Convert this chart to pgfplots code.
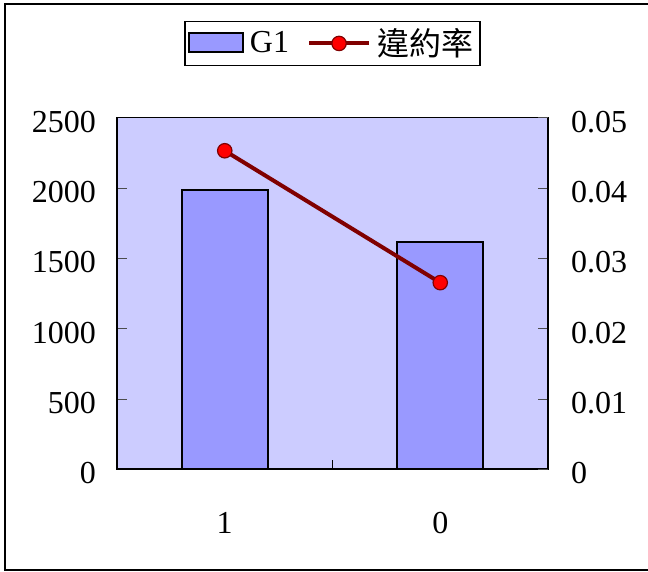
\documentclass[border=0pt]{standalone}
\usepackage{pgfplots}
\pgfplotsset{compat=1.18}
\usepackage{fontspec}
\setmainfont{Liberation Serif}
\newfontfamily\cjk{Noto Sans CJK TC}
\definecolor{bgc}{HTML}{CCCCFF}
\definecolor{barc}{HTML}{9999FF}
\definecolor{linec}{HTML}{800000}
\pgfplotsset{
  mylineleg/.style={legend image code/.code={%
    \draw[##1, mark=none] (0pt,0pt) -- (30pt,0pt);
    \draw[##1] plot coordinates {(15pt,0pt)};}},
  mybarleg/.style={legend image code/.code={%
    \draw[fill=barc, draw=black, line width=1pt] (0pt,-4.5pt) rectangle (27pt,5pt);}},
}
\begin{document}
\begin{tikzpicture}
\useasboundingbox (-58.5pt,-51.35pt) rectangle (265.5pt,234.65pt);
\draw[black, line width=0.8pt] (-56pt,-50.35pt) rectangle (268pt,232.65pt);
\pgfplotsset{every axis/.append style={
  scale only axis, width=215.5pt, height=175.8pt,
  xmin=-0.5, xmax=1.5,
  font=\fontsize{16}{19}\selectfont,
  /pgf/number format/assume math mode=true,
  /pgf/number format/1000 sep={},
  scaled y ticks=false,
  tick align=inside,
  major tick length=5pt,
}}
\begin{axis}[
  at={(0,0)}, anchor=south west,
  axis background/.style={fill=bgc},
  ymin=0, ymax=2500,
  ytick={0,500,1000,1500,2000,2500},
  ytick pos=left,
  yticklabel style={xshift=-7pt, yshift=-2pt},
  major y tick style={draw=black!70},
  xtick={0,1}, xticklabels={1,0},
  xtick pos=bottom,
  major x tick style={draw=none},
  extra x ticks={0.5}, extra x tick labels={},
  extra x tick style={major tick length=4.5pt, major x tick style={draw=black}},
  xticklabel style={yshift=-18pt},
  axis line style={black, line width=0.8pt},
]
\addplot[ybar, bar width=0.4, fill=barc, draw=black, line width=0.9pt]
  coordinates {(0,1986) (1,1614)};
\end{axis}
\begin{axis}[
  at={(0,0)}, anchor=south west,
  axis y line*=right, axis x line=none,
  ymin=0, ymax=0.05,
  ytick={0,0.01,0.02,0.03,0.04,0.05},
  yticklabels={0,0.01,0.02,0.03,0.04,0.05},
  yticklabel style={xshift=8pt, yshift=-2pt},
  major y tick style={draw=black!70},
  axis line style={black, line width=0.8pt},
  legend style={at={(0.5,1.2756)}, anchor=north, legend columns=2,
    draw=black, line width=0.6pt, fill=white,
    font=\fontsize{16}{19}\selectfont,
    /tikz/every even column/.append style={column sep=7pt},
    /tikz/every odd column/.append style={column sep=1pt},
    inner sep=1.5pt},
]
\addlegendimage{mybarleg}
\addlegendentry{G1}
\addplot[color=linec, line width=2pt, mark=*, mark size=3.6pt,
  mark options={fill=red, draw=linec, line width=0.6pt}, mylineleg]
  coordinates {(0,0.0453) (1,0.02654)};
\addlegendentry{{\cjk 違約率}}
\end{axis}
\end{tikzpicture}
\end{document}
